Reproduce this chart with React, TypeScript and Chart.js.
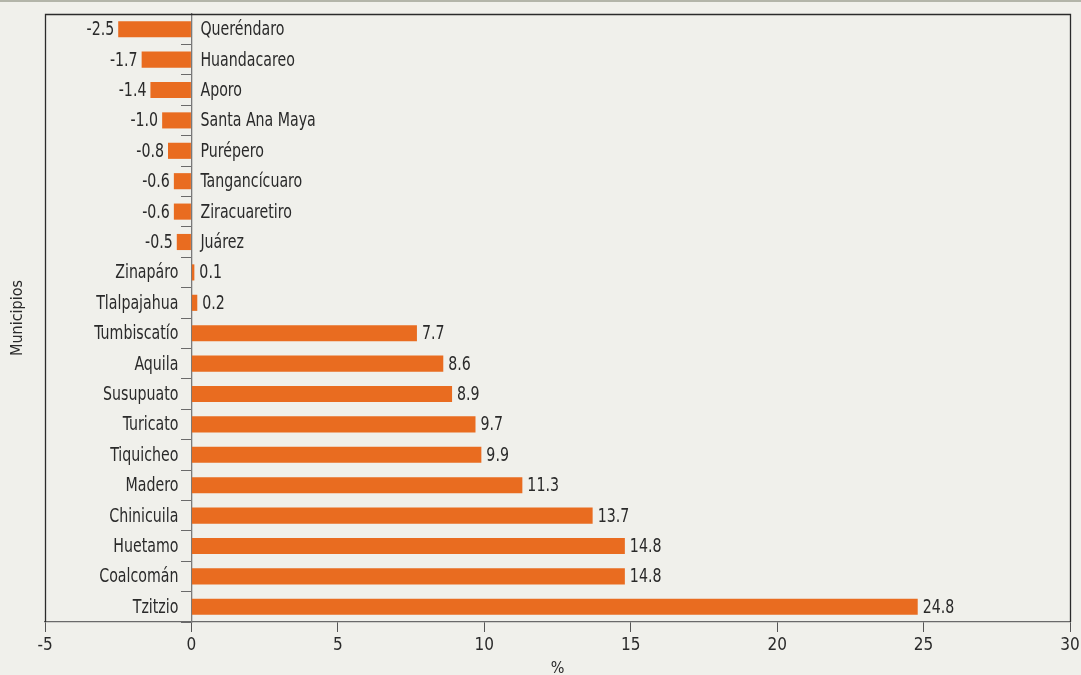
import React, { useEffect, useRef } from "react";
import { Chart, registerables } from "chart.js";

Chart.register(...registerables);

const categories: string[] = [
  "Queréndaro", "Huandacareo", "Aporo", "Santa Ana Maya", "Purépero",
  "Tangancícuaro", "Ziracuaretiro", "Juárez", "Zinapáro", "Tlalpajahua",
  "Tumbiscatío", "Aquila", "Susupuato", "Turicato", "Tiquicheo",
  "Madero", "Chinicuila", "Huetamo", "Coalcomán", "Tzitzio",
];
const values: number[] = [
  -2.5, -1.7, -1.4, -1.0, -0.8,
  -0.6, -0.6, -0.5, 0.1, 0.2,
  7.7, 8.6, 8.9, 9.7, 9.9,
  11.3, 13.7, 14.8, 14.8, 24.8,
];
const xTicks: number[] = [-5, 0, 5, 10, 15, 20, 25, 30];

const FONT = "'DejaVu Sans Condensed', 'DejaVu Sans', sans-serif";
const TEXT = "#2a2a2a";
const BAR = "#e96c20";
const SQUEEZE = 0.83;

function drawText(ctx: any, text: string, x: number, y: number, align: string) {
  ctx.save();
  ctx.translate(x, y);
  ctx.scale(SQUEEZE, 1);
  ctx.textAlign = align;
  ctx.fillText(text, 0, 0);
  ctx.restore();
}

const labelsPlugin = {
  id: "barLabels",
  afterDatasetsDraw(chart: any) {
    const ctx = chart.ctx;
    const meta = chart.getDatasetMeta(0);
    const zero = chart.scales.x.getPixelForValue(0);
    ctx.save();
    ctx.font = `19px ${FONT}`;
    ctx.fillStyle = TEXT;
    ctx.textBaseline = "middle";
    meta.data.forEach((el: any, i: number) => {
      const v = values[i];
      const y = el.y + 1;
      if (v < 0) {
        drawText(ctx, v.toFixed(1), el.x - 4, y, "right");
        drawText(ctx, categories[i], zero + 9, y, "left");
      } else {
        drawText(ctx, v.toFixed(1), el.x + 5, y, "left");
        drawText(ctx, categories[i], zero - 13, y, "right");
      }
    });
    ctx.restore();
  },
};

const framePlugin = {
  id: "frame",
  afterDraw(chart: any) {
    const { left, top, right, bottom } = chart.chartArea;
    const ctx = chart.ctx;
    ctx.save();
    ctx.strokeStyle = "#2b2b2b";
    ctx.lineWidth = 1.3;
    ctx.beginPath();
    ctx.moveTo(Math.round(left) + 0.5, Math.round(bottom));
    ctx.lineTo(Math.round(left) + 0.5, Math.round(top) + 0.5);
    ctx.lineTo(Math.round(right) + 0.5, Math.round(top) + 0.5);
    ctx.lineTo(Math.round(right) + 0.5, Math.round(bottom));
    ctx.stroke();
    ctx.restore();
  },
};

export default function App() {
  const ref = useRef<HTMLCanvasElement>(null);
  useEffect(() => {
    if (!ref.current) return;
    const chart = new Chart(ref.current, {
      type: "bar",
      data: {
        labels: categories,
        datasets: [
          {
            data: values,
            backgroundColor: BAR,
            borderWidth: 0,
            barPercentage: 0.53,
            categoryPercentage: 1,
            yAxisID: "y",
          },
        ],
      },
      options: {
        indexAxis: "y",
        animation: false,
        responsive: false,
        maintainAspectRatio: false,
        layout: { padding: { top: 12, right: 11, left: 0, bottom: 0 } },
        plugins: {
          legend: { display: false },
          tooltip: { enabled: false },
        },
        scales: {
          x: {
            type: "linear",
            min: -5,
            max: 30,
            afterBuildTicks: (s: any) => {
              s.ticks = xTicks.map((v) => ({ value: v }));
            },
            ticks: {
              color: TEXT,
              font: { family: FONT, size: 17 },
              padding: 3,
              maxRotation: 0,
            },
            grid: {
              drawOnChartArea: false,
              drawTicks: true,
              tickLength: 10,
              color: "#555",
            },
            border: { color: "#6a6a6a", width: 1.3 },
            title: {
              display: true,
              text: "%",
              color: TEXT,
              font: { family: FONT, size: 16 },
              padding: { top: 0, bottom: -3 },
            },
            afterFit: (s: any) => {
              s.height = 53;
              s.paddingRight = 0;
              s.paddingLeft = 0;
            },
          } as any,
          y: {
            type: "category",
            position: "left",
            offset: true,
            ticks: { display: false },
            grid: { display: false, offset: true },
            border: { display: false },
            title: {
              display: true,
              text: "Municipios",
              color: TEXT,
              font: { family: FONT, size: 16 },
              padding: { top: 8, bottom: 0 },
            },
            afterFit: (s: any) => {
              s.width = 45;
            },
          } as any,
          y0: {
            type: "category",
            labels: categories,
            position: { x: 0 },
            offset: true,
            ticks: { display: false },
            grid: {
              offset: true,
              drawOnChartArea: false,
              drawTicks: true,
              tickLength: 10,
              color: "#6a6a6a",
            },
            border: { color: "#7a7a7a", width: 1.3 },
          } as any,
        },
      },
      plugins: [labelsPlugin, framePlugin],
    });
    return () => chart.destroy();
  }, []);

  return (
    <div
      style={{
        position: "fixed",
        left: 0,
        top: 0,
        width: 1081,
        height: 675,
        background: "#f0f0eb",
        borderTop: "2px solid #b3b5a9",
        boxSizing: "border-box",
      }}
    >
      <canvas ref={ref} width={1081} height={673} style={{ display: "block" }} />
    </div>
  );
}
